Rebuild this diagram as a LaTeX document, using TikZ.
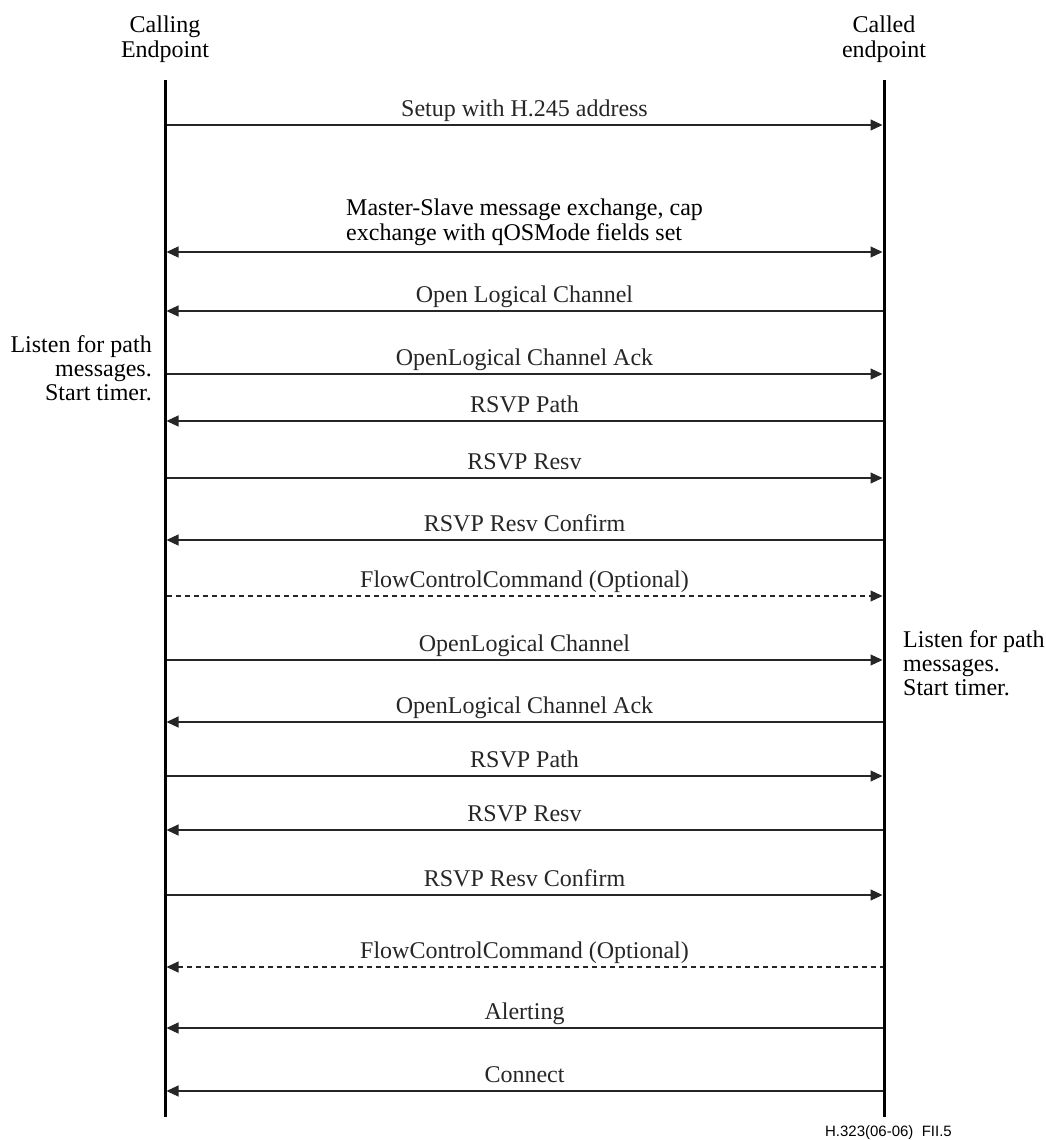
\documentclass[tikz,border=0pt]{standalone}
\usepackage{fontspec}
\setmainfont{Liberation Serif}
\newfontfamily\arialf{Liberation Sans}
\usetikzlibrary{arrows.meta}
\begin{document}
\begin{tikzpicture}[x=1pt,y=-1pt,
  font=\fontsize{24}{24.5}\selectfont,
  life/.style={line width=3pt, black},
  msgline/.style={line width=1.1pt, black!85},
  toR/.style={msgline, -{Triangle[length=12pt,width=11pt]}, shorten >=1.5pt, shorten <=1.5pt},
  toL/.style={msgline, {Triangle[length=12pt,width=11pt]}-, shorten >=1.5pt, shorten <=1.5pt},
  both/.style={msgline, {Triangle[length=12pt,width=11pt]}-{Triangle[length=12pt,width=11pt]}, shorten >=1.5pt, shorten <=1.5pt},
  dsh/.style={dash pattern=on 5pt off 4pt},
  dR/.style={toR, dsh},
  dL/.style={toL, dsh},
  lbl/.style={midway, anchor=base, yshift=9pt, inner sep=0pt},
  head/.style={align=center, inner sep=0pt, anchor=base},
  note/.style={inner sep=0pt, font=\fontsize{24}{24}\selectfont}
]
\useasboundingbox (0,0) rectangle (1046,1140);
% headers (anchor = baseline of last line)
\node[head] (hcall) at (165,57) {Calling\\Endpoint};
\node[head] (hcalled) at (884,57) {Called\\endpoint};
% lifelines
\coordinate (Ltop) at (165,80);
\coordinate (Lbot) at (165,1117);
\coordinate (Rtop) at (884,80);
\coordinate (Rbot) at (884,1117);
\draw[life] (Ltop) -- (Lbot);
\draw[life] (Rtop) -- (Rbot);
% messages
\foreach \i/\y/\st/\txt in {
  1/125/toR/{Setup with H.245 address},
  3/311/toL/{Open Logical Channel},
  4/374/toR/{OpenLogical Channel Ack},
  5/421/toL/{RSVP Path},
  6/478/toR/{RSVP Resv},
  7/540/toL/{RSVP Resv Confirm},
  8/596/dR/{FlowControlCommand (Optional)},
  9/660/toR/{OpenLogical Channel},
  10/722/toL/{OpenLogical Channel Ack},
  11/776/toR/{RSVP Path},
  12/830/toL/{RSVP Resv},
  13/895/toR/{RSVP Resv Confirm},
  14/967/dL/{FlowControlCommand (Optional)},
  15/1028/toL/{Alerting},
  16/1091/toL/{Connect}} {
  \coordinate (L\i) at (165,\y);
  \coordinate (R\i) at (884,\y);
  \draw[\st] (L\i) -- (R\i) node[lbl] (m\i) {\txt};
}
% master-slave exchange
\coordinate (L2) at (165,252);
\coordinate (R2) at (884,252);
\draw[both] (L2) -- (R2);
\node[align=left, anchor=base west, inner sep=0pt, font=\fontsize{24}{25}\selectfont] (m2) at (346,240)
  {Master-Slave message exchange, cap\\exchange with qOSMode fields set};
% notes
\node[note, align=right, anchor=base east] (noteL) at (152,400)
  {Listen for path\\messages.\\Start timer.};
\node[note, align=left, anchor=base west] (noteR) at (903,695)
  {Listen for path\\messages.\\Start timer.};
% footer
\node[anchor=base east, inner sep=0pt, font=\arialf\fontsize{15}{17}\selectfont] (foot) at (952,1136)
  {H.323(06-06)\ \ FII.5};
\end{tikzpicture}
\end{document}
